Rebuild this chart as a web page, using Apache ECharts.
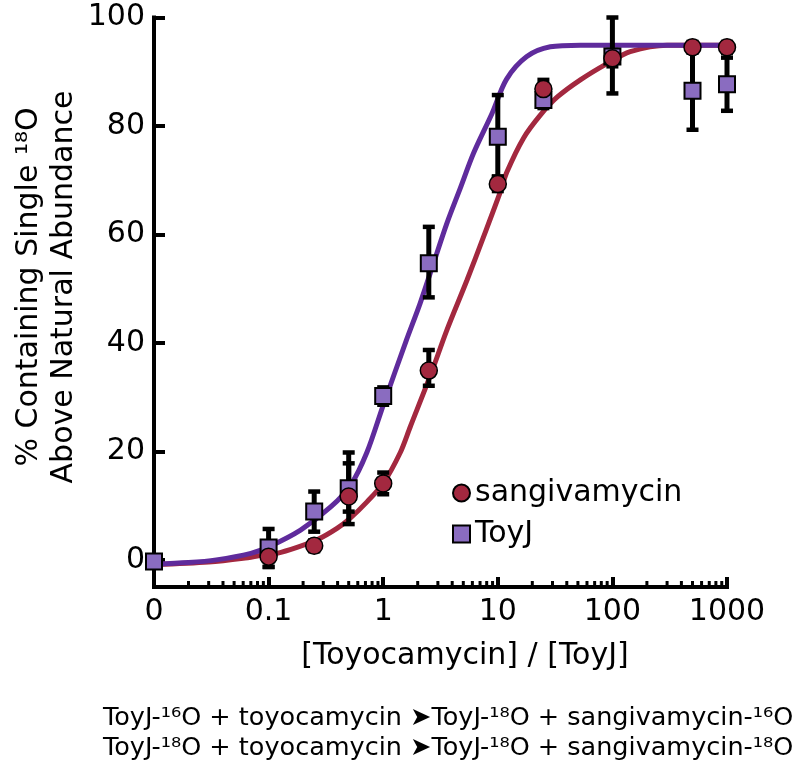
<!DOCTYPE html>
<html><head><meta charset="utf-8">
<script src="https://cdn.jsdelivr.net/npm/echarts@6/dist/echarts.min.js"></script>
<style>html,body{margin:0;padding:0;background:#fff}#c{width:797px;height:768px}</style>
</head><body><div id="c"></div>
<script>
// ---- data ----
const ratioX   = [0.01, 0.1, 0.25, 0.5, 1, 2.5, 10, 25, 100, 500, 1000]; // 0.01 is shown as "0"
const toyjY    = [-0.3, 2.3, 8.9, 13.2, 30.2, 54.7, 78.0, 84.8, 92.8, 86.5, 87.7];
const toyjLow  = [null, -1.3, 5.2, 6.6, 28.6, 48.4, 70.7, 83.3, 86.0, 79.3, 82.8];
const toyjHigh = [null, 5.7, 12.6, 19.8, 31.8, 61.4, 85.7, 86.3, 100.0, 93.7, 92.6];

const sangX    = [0.1, 0.25, 0.5, 1, 2.5, 10, 25, 100, 500, 1000];
const sangY    = [0.6, 2.6, 11.7, 14.1, 34.9, 69.3, 86.8, 92.5, 94.5, 94.5];
const sangLow  = [-1.3, 1.6, 8.9, 12.1, 32.1, 68.0, 85.1, 91.0, 93.5, 93.5];
const sangHigh = [2.5, 3.6, 17.8, 16.1, 38.7, 70.6, 88.5, 94.0, 95.5, 95.5];

const toyjFitX = [0.01, 0.02, 0.035, 0.07, 0.1, 0.19, 0.35, 0.52, 0.72, 1.0, 1.6, 2.1, 2.75, 3.6, 4.7, 6.15, 8.9, 11.9, 17.9, 28.7, 52.6, 100, 300, 1000];
const toyjFitY = [-0.8, -0.5, 0.0, 1.2, 2.4, 5.5, 9.8, 13.8, 19.8, 28.5, 40.6, 47.3, 54.7, 62.1, 68.5, 75.0, 82.3, 88.6, 92.8, 94.6, 94.9, 94.9, 94.9, 94.9];

const sangFitX = [0.01, 0.03, 0.06, 0.09, 0.118, 0.177, 0.265, 0.395, 0.516, 0.722, 1.0, 1.41, 1.72, 2.58, 3.6, 5.39, 7.52, 10.5, 12.0, 16.8, 23.5, 32.9, 52.5, 89.7, 143, 300, 1000];
const sangFitY = [-0.9, -0.4, 0.3, 0.9, 1.2, 2.3, 3.7, 5.8, 7.7, 10.7, 14.1, 19.8, 24.5, 34.0, 42.4, 51.6, 59.6, 67.8, 71.5, 77.8, 82.0, 85.3, 88.5, 91.5, 93.7, 94.9, 94.9];

const xTickLabels  = ['0', '0.1', '1', '10', '100', '1000'];
const yTicks       = [0, 20, 40, 60, 80, 100];
const minorDecades = [0.01, 0.1, 1, 10, 100];
const minorSteps   = [2, 3, 4, 5, 6, 7, 8, 9];

const Y_MIN = -5, Y_MAX = 100;
const FONT = 'DejaVu Sans';
const RED = '#a3283f', RED_LINE = '#a3283f', PURPLE_FILL = '#8a6cc0', PURPLE_LINE = '#5f2b9c';

const minorTicks = [];
minorDecades.forEach(d => minorSteps.forEach(s => minorTicks.push([d * s, Y_MIN])));

const zip = (xs, ys) => xs.map((x, i) => [x, ys[i]]);
const errData = (xs, lo, hi) => xs.map((x, i) => [x, lo[i], hi[i]]).filter(d => d[1] !== null);

function renderErr(params, api) {
  const x = api.value(0);
  const p1 = api.coord([x, api.value(1)]);
  const p2 = api.coord([x, api.value(2)]);
  const cap = 6, st = { stroke: '#000', lineWidth: 4.5 };
  return { type: 'group', children: [
    { type: 'line', shape: { x1: p1[0], y1: p1[1], x2: p2[0], y2: p2[1] }, style: { stroke: '#000', lineWidth: 5 } },
    { type: 'line', shape: { x1: p1[0] - cap, y1: p1[1], x2: p1[0] + cap, y2: p1[1] }, style: st },
    { type: 'line', shape: { x1: p2[0] - cap, y1: p2[1], x2: p2[0] + cap, y2: p2[1] }, style: st }
  ]};
}
function renderMinor(params, api) {
  const p = api.coord([api.value(0), api.value(1)]);
  return { type: 'line', shape: { x1: p[0], y1: p[1], x2: p[0], y2: p[1] - 6 }, style: { stroke: '#000', lineWidth: 3 } };
}

const chart = echarts.init(document.getElementById('c'), null, { renderer: 'canvas' });
chart.setOption({
  backgroundColor: '#fff',
  animation: false,
  grid: { left: 154, right: 70, top: 17.5, bottom: 181, containLabel: false },
  legend: {
    left: 452, top: 478, orient: 'vertical', padding: 0, itemGap: 11,
    itemWidth: 17, itemHeight: 17, selectedMode: false,
    textStyle: { fontFamily: FONT, fontSize: 30, color: '#000' },
    data: [ { name: 'sangivamycin', icon: 'circle' }, { name: 'ToyJ', icon: 'rect' } ]
  },
  xAxis: {
    type: 'log', logBase: 10, min: 0.01, max: 1000,
    axisLine: { onZero: false, lineStyle: { color: '#000', width: 4, cap: 'square' } },
    axisTick: { inside: true, length: 10, lineStyle: { color: '#000', width: 4 } },
    splitLine: { show: false },
    axisLabel: {
      margin: 10, fontFamily: FONT, fontSize: 30, color: '#000',
      formatter: v => xTickLabels[Math.round(Math.log10(v)) + 2]
    }
  },
  yAxis: {
    type: 'value', min: Y_MIN, max: Y_MAX,
    axisLine: { lineStyle: { color: '#000', width: 4, cap: 'square' } },
    axisTick: { inside: true, length: 11, customValues: yTicks, lineStyle: { color: '#000', width: 4 } },
    splitLine: { show: false },
    axisLabel: { margin: 9, fontFamily: FONT, fontSize: 30, color: '#000', customValues: yTicks }
  },
  series: [
    { type: 'custom', silent: true, renderItem: renderMinor, data: minorTicks, encode: { x: 0, y: 1 }, z: 1, clip: false },
    { type: 'line', name: 'sangFit', data: zip(sangFitX, sangFitY), smooth: 0.3, showSymbol: false, symbol: 'none',
      lineStyle: { color: RED_LINE, width: 5 }, z: 2 },
    { type: 'line', name: 'toyjFit', data: zip(toyjFitX, toyjFitY), smooth: 0.3, showSymbol: false, symbol: 'none',
      lineStyle: { color: PURPLE_LINE, width: 5 }, z: 3 },
    { type: 'custom', name: 'toyjErr', renderItem: renderErr, data: errData(ratioX, toyjLow, toyjHigh), encode: { x: 0, y: [1, 2] }, z: 4 },
    { type: 'custom', name: 'sangErr', renderItem: renderErr, data: errData(sangX, sangLow, sangHigh), encode: { x: 0, y: [1, 2] }, z: 4 },
    { type: 'scatter', name: 'ToyJ', data: zip(ratioX, toyjY), symbol: 'rect', symbolSize: 16,
      itemStyle: { color: PURPLE_FILL, borderColor: '#000', borderWidth: 2, opacity: 1 }, z: 5 },
    { type: 'scatter', name: 'sangivamycin', data: zip(sangX, sangY), symbol: 'circle', symbolSize: 17,
      itemStyle: { color: RED, borderColor: '#000', borderWidth: 1.5, opacity: 1 }, z: 6 }
  ],
  graphic: [
    { type: 'text', x: 47, y: 287, rotation: Math.PI / 2,
      style: { text: '% Containing Single \u00B9\u2078O\nAbove Natural Abundance', fontFamily: FONT, fontSize: 30,
               lineHeight: 35, align: 'center', verticalAlign: 'middle', fill: '#000' } },
    { type: 'text', x: 465, y: 656,
      style: { text: '[Toyocamycin] / [ToyJ]', fontFamily: FONT, fontSize: 30, align: 'center', verticalAlign: 'middle', fill: '#000' } },
    { type: 'text', x: 103, y: 718,
      style: { text: 'ToyJ-\u00B9\u2076O + toyocamycin \u27A4ToyJ-\u00B9\u2078O + sangivamycin-\u00B9\u2076O', fontFamily: FONT, fontSize: 25.5, align: 'left', verticalAlign: 'middle', fill: '#000' } },
    { type: 'text', x: 103, y: 748,
      style: { text: 'ToyJ-\u00B9\u2078O + toyocamycin \u27A4ToyJ-\u00B9\u2078O + sangivamycin-\u00B9\u2078O', fontFamily: FONT, fontSize: 25.5, align: 'left', verticalAlign: 'middle', fill: '#000' } }
  ]
});
</script></body></html>
